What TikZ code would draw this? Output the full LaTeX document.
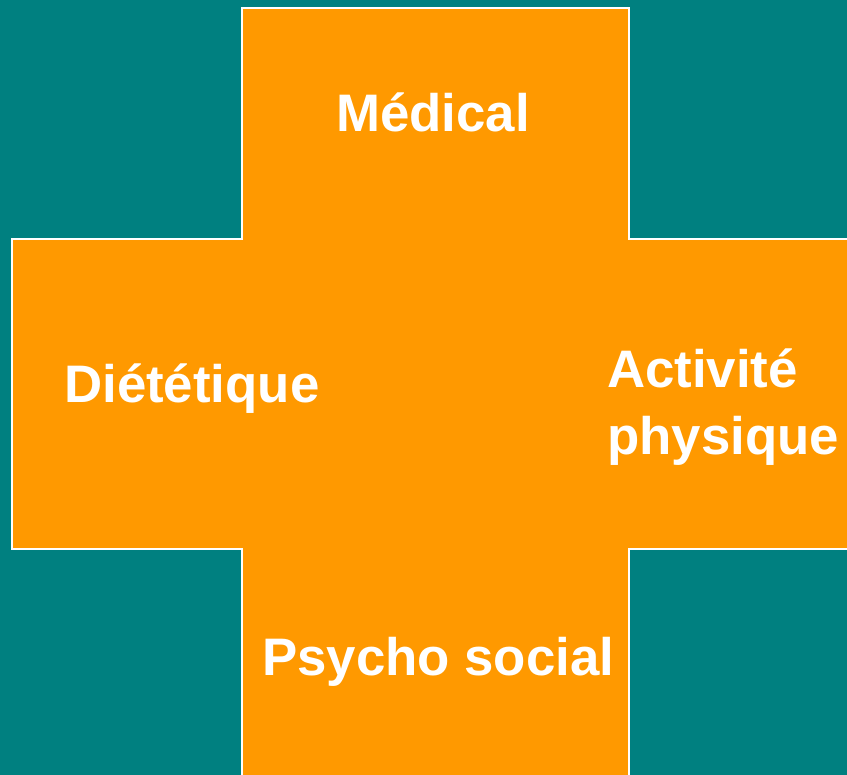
\documentclass[tikz,border=0pt]{standalone}
\usepackage{fontspec}
\setmainfont{Liberation Sans}
\usepackage{xcolor}
\definecolor{fond}{HTML}{008080}
\definecolor{croix}{HTML}{FF9900}

\begin{document}
\begin{tikzpicture}[x=1pt, y=-1pt,
    titre/.style={text=white, font=\bfseries\fontsize{52.8}{67}\selectfont, inner sep=0pt, anchor=base west, align=left}]
        \fill[fond] (0,0) rectangle (847,775);
        \useasboundingbox (0,0) rectangle (847,775);

        % la croix
        \filldraw[fill=croix, draw=white, line width=1.5pt]
            (242,8) -- (629,8) -- (629,239) -- (850,239) -- (850,549) -- (629,549)
            -- (629,780) -- (242,780) -- (242,549) -- (12,549) -- (12,239) -- (242,239) -- cycle;

        \node[titre] (med) at (336,132) {Médical};
        \node[titre] (diet) at (64,403) {Diététique};
        \node[titre] (act) at (607,455) {Activité\\physique};
        \node[titre] (psy) at (262,675) {Psycho social};
      \end{tikzpicture}
\end{document}
